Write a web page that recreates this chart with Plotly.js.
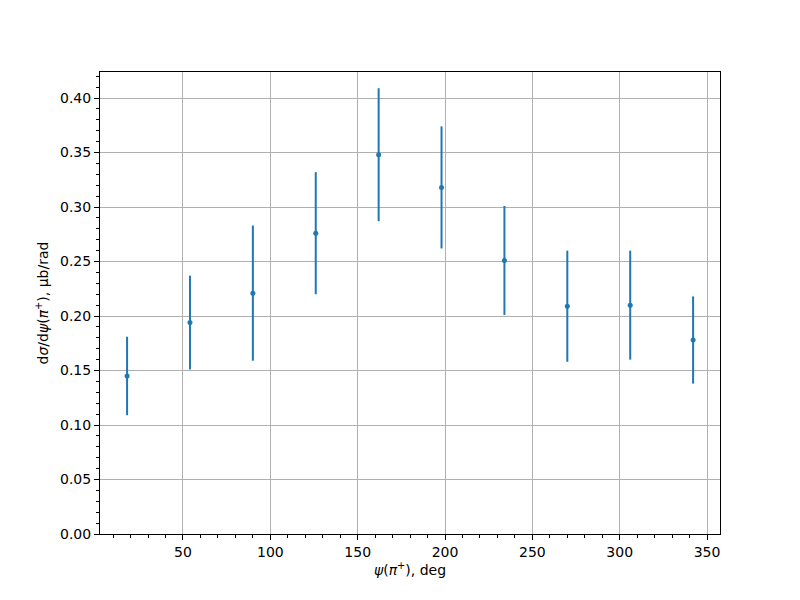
<!DOCTYPE html>
<html>
<head>
<meta charset="utf-8">
<script src="https://cdn.plot.ly/plotly-3.0.1.min.js"></script>
<style>body{margin:0;padding:0;background:#fff;} #chart{width:800px;height:600px;}</style>
</head>
<body>
<div id="chart"></div>
<script>
const psiDeg = [18, 54, 90, 126, 162, 198, 234, 270, 306, 342];
const dsigma = [0.145, 0.194, 0.221, 0.276, 0.348, 0.318, 0.251, 0.209, 0.210, 0.178];
const dsigmaErr = [0.036, 0.043, 0.062, 0.056, 0.061, 0.056, 0.050, 0.051, 0.050, 0.040];
const xTickVals = [50, 100, 150, 200, 250, 300, 350];
const yTickVals = [0, 0.05, 0.10, 0.15, 0.20, 0.25, 0.30, 0.35, 0.40];

const trace = {
  x: psiDeg,
  y: dsigma,
  mode: 'markers',
  type: 'scatter',
  marker: {color: '#1f77b4', size: 5},
  error_y: {type: 'data', array: dsigmaErr, visible: true, color: '#1f77b4', thickness: 2, width: 0},
  showlegend: false,
  hoverinfo: 'x+y'
};

const font = {family: 'DejaVu Sans, sans-serif', size: 14, color: '#000'};

const layout = {
  width: 800, height: 600,
  paper_bgcolor: '#fff', plot_bgcolor: '#fff',
  margin: {l: 100, r: 80, t: 72, b: 66},
  font: font,
  xaxis: {
    range: [2.5, 357.4],
    tickvals: xTickVals,
    ticks: 'outside', ticklen: 5, tickwidth: 1, tickcolor: '#000',
    showline: true, linecolor: '#000', linewidth: 1, mirror: true,
    showgrid: true, gridcolor: '#b0b0b0', gridwidth: 1,
    zeroline: false,
    minor: {dtick: 10, tick0: 0, ticks: 'outside', ticklen: 3, tickcolor: '#000', showgrid: false},
    title: {text: '<i>ψ</i>(<i>π</i><sup>+</sup>), deg', font: font, standoff: 6}
  },
  yaxis: {
    range: [0, 0.4239],
    tickvals: yTickVals,
    tickformat: '.2f',
    ticks: 'outside', ticklen: 5, tickwidth: 1, tickcolor: '#000',
    showline: true, linecolor: '#000', linewidth: 1, mirror: true,
    showgrid: true, gridcolor: '#b0b0b0', gridwidth: 1,
    zeroline: false,
    minor: {dtick: 0.01, tick0: 0, ticks: 'outside', ticklen: 3, tickcolor: '#000', showgrid: false},
    title: {text: 'd<i>σ</i>/d<i>ψ</i>(<i>π</i><sup>+</sup>), μb/rad', font: font, standoff: 8}
  }
};

Plotly.newPlot('chart', [trace], layout, {displayModeBar: false, staticPlot: true});
</script>
</body>
</html>
